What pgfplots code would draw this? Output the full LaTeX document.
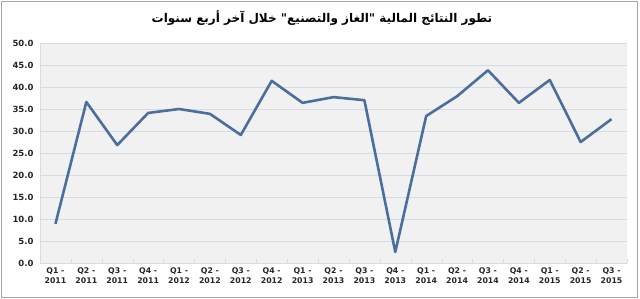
\documentclass[border=0pt]{standalone}
\usepackage{fontspec}
\usepackage{pgfplots}
\pgfplotsset{compat=1.18}
\setmainfont{DejaVu Sans}
\newfontfamily\arabicfont[Script=Arabic]{DejaVu Sans}
\TeXXeTstate=1
\definecolor{lineblue}{HTML}{4A6F9C}
\definecolor{gridc}{HTML}{D5DCE6}
\definecolor{bgc}{HTML}{F1F1F1}
\definecolor{framec}{HTML}{A6A6A6}
\begin{document}
\begin{tikzpicture}[x=1bp,y=1bp]
\useasboundingbox (-40bp,-36bp) rectangle (600bp,263bp);
\draw[framec, line width=1bp] (-38bp,-34bp) rectangle (597bp,261bp);
\begin{axis}[
  at={(0bp,0bp)}, anchor=south west,
  scale only axis, width=587bp, height=220bp,
  xmin=-0.5, xmax=18.5, ymin=0, ymax=50,
  ytick={0,5,...,50},
  xtick={0,...,18},
  xticklabels={{Q1 -\\2011},{Q2 -\\2011},{Q3 -\\2011},{Q4 -\\2011},{Q1 -\\2012},{Q2 -\\2012},{Q3 -\\2012},{Q4 -\\2012},{Q1 -\\2013},{Q2 -\\2013},{Q3 -\\2013},{Q4 -\\2013},{Q1 -\\2014},{Q2 -\\2014},{Q3 -\\2014},{Q4 -\\2014},{Q1 -\\2015},{Q2 -\\2015},{Q3 -\\2015}},
  xticklabel style={align=center, font=\fontsize{7.8bp}{10.5bp}\selectfont\bfseries, color=black!85, yshift=-1bp},
  yticklabel style={font=\fontsize{8.5bp}{10bp}\selectfont\bfseries, color=black!85, xshift=-3bp},
  /pgf/number format/assume math mode=true,
  /pgf/number format/.cd, fixed, fixed zerofill, precision=1, /pgfplots/.cd,
  axis background/.style={fill=bgc},
  ymajorgrids, grid style={gridc, line width=0.8bp},
  major tick length=0pt,
  extra x ticks={-0.5,0.5,...,18.5}, extra x tick labels={},
  extra x tick style={major tick length=4bp, tick style={gridc}, xmajorgrids=false, grid=none},
  axis x line*=bottom, axis y line*=left,
  axis line style={gridc, line width=0.8bp},
  clip=false,
]
\addplot[lineblue, line width=2.6bp, line join=round] coordinates {
(0,8.9) (1,36.6) (2,26.8) (3,34.1) (4,35.0) (5,33.9) (6,29.1) (7,41.4)
(8,36.4) (9,37.7) (10,37.0) (11,2.5) (12,33.4) (13,37.9) (14,43.8)
(15,36.4) (16,41.6) (17,27.5) (18,32.7)
};
\end{axis}
\node[font=\arabicfont\fontsize{12bp}{14bp}\selectfont\bfseries] at (282bp,245bp) {\beginR تطور النتائج المالية "الغاز والتصنيع" خلال آخر أربع سنوات\endR};
\end{tikzpicture}
\end{document}
